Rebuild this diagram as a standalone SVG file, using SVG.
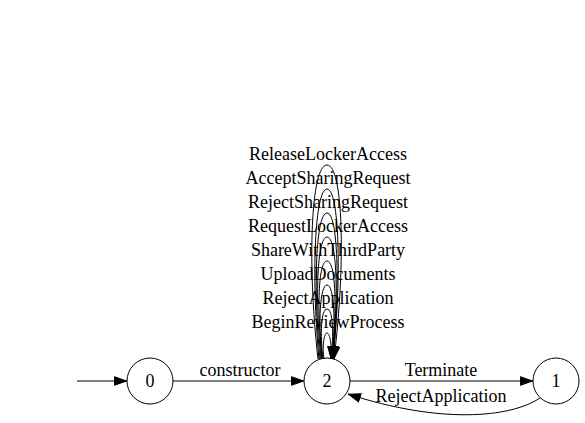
<svg xmlns="http://www.w3.org/2000/svg" width="585" height="423" viewBox="0 0 585 423">
<defs>
<marker id="ah" viewBox="0 0 13 10" refX="13" refY="5" markerWidth="13" markerHeight="10" markerUnits="userSpaceOnUse" orient="auto">
<path d="M0.5,0.7 L12.5,5 L0.5,9.3 Z" fill="#000" stroke="#000" stroke-width="1"/>
</marker>
<style>
.n{fill:none;stroke:#000;stroke-width:1}
.e{fill:none;stroke:#000;stroke-width:1;marker-end:url(#ah)}
text{font-size:18px;fill:#000;text-anchor:middle}
</style>
</defs>
<rect width="585" height="423" fill="#fff"/>
<g id="edges" font-family="Liberation Serif, Times New Roman, serif">
<path class="e" d="M77,381 L127,381"/>
<path class="e" d="M173,381 L304,381"/>
<text x="240" y="376">constructor</text>
<path class="e" d="M350,381 L533,381"/>
<text x="441" y="376">Terminate</text>
<path class="e" d="M540,398 C510,418 440,424 348,394"/>
<text x="441" y="402">RejectApplication</text>
<path class="e" d="M324,359 C322,346 324,333 327,333 S332,346 331,359"/>
<path class="e" d="M323,359 C320,334 321,309 327,309 S334,334 331,359"/>
<path class="e" d="M322,359 C318,322 320,285 327,285 S336,322 332,359"/>
<path class="e" d="M322,359 C317,310 318,261 327,261 S337,310 332,359"/>
<path class="e" d="M321,359 C315,298 317,237 327,237 S339,298 332,359"/>
<path class="e" d="M320,359 C313,286 316,213 327,213 S340,286 333,359"/>
<path class="e" d="M319,359 C311,274 315,189 327,189 S342,274 333,359"/>
<path class="e" d="M318,359 C307,262 311,165 327,165 S346,262 334,359"/>
<text x="328" y="160">ReleaseLockerAccess</text>
<text x="328" y="184">AcceptSharingRequest</text>
<text x="328" y="208">RejectSharingRequest</text>
<text x="328" y="232">RequestLockerAccess</text>
<text x="328" y="256">ShareWithThirdParty</text>
<text x="328" y="280">UploadDocuments</text>
<text x="328" y="304">RejectApplication</text>
<text x="328" y="328">BeginReviewProcess</text>
</g>
<g id="node0" font-family="Liberation Serif, Times New Roman, serif"><circle class="n" cx="150" cy="381" r="23"/><text x="150" y="387">0</text></g>
<g id="node2" font-family="Liberation Serif, Times New Roman, serif"><circle class="n" cx="327" cy="381" r="23"/><text x="327" y="387">2</text></g>
<g id="node1" font-family="Liberation Serif, Times New Roman, serif"><circle class="n" cx="556" cy="381" r="23"/><text x="556" y="387">1</text></g>
</svg>
